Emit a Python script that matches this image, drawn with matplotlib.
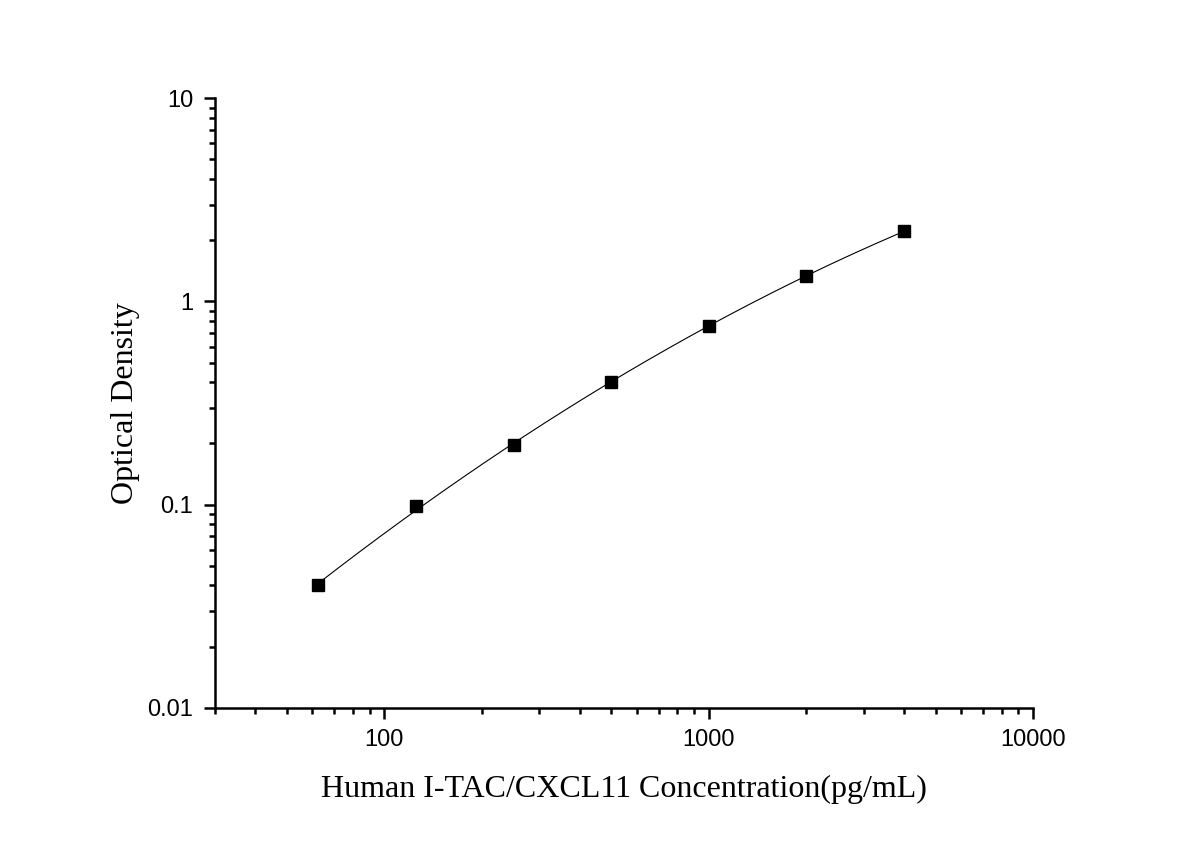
import numpy as np
import matplotlib
matplotlib.use("Agg")
import matplotlib.pyplot as plt
from matplotlib.ticker import LogLocator, FixedLocator, FixedFormatter, NullFormatter

# Standard curve points
concentration = [62.5, 125, 250, 500, 1000, 2000, 4000]
optical_density = [0.040, 0.098, 0.197, 0.400, 0.757, 1.331, 2.23]

x_ticks = [100, 1000, 10000]
x_tick_labels = ["100", "1000", "10000"]
y_ticks = [0.01, 0.1, 1, 10]
y_tick_labels = ["0.01", "0.1", "1", "10"]

# Smooth fitted curve in log-log space
lx = np.log10(concentration)
ly = np.log10(optical_density)
coef = np.polyfit(lx, ly, 2)
xs = np.linspace(lx.min(), lx.max(), 200)
ys = np.polyval(coef, xs)

fig = plt.figure(figsize=(12, 8.49), dpi=100)
ax = fig.add_axes([0.179, 0.1664, 0.682, 0.7178])

ax.plot(10 ** xs, 10 ** ys, color="black", linewidth=0.8)
ax.plot(concentration, optical_density, linestyle="none", marker="s",
        markersize=8, color="black")

ax.set_xscale("log")
ax.set_yscale("log")
ax.set_xlim(30, 10000)
ax.set_ylim(0.01, 10)

ax.xaxis.set_major_locator(FixedLocator(x_ticks))
ax.xaxis.set_major_formatter(FixedFormatter(x_tick_labels))
ax.yaxis.set_major_locator(FixedLocator(y_ticks))
ax.yaxis.set_major_formatter(FixedFormatter(y_tick_labels))
ax.xaxis.set_minor_locator(LogLocator(base=10, subs=np.arange(2, 10)))
ax.yaxis.set_minor_locator(LogLocator(base=10, subs=np.arange(2, 10)))
ax.xaxis.set_minor_formatter(NullFormatter())
ax.yaxis.set_minor_formatter(NullFormatter())

for side in ["top", "right"]:
    ax.spines[side].set_visible(False)
for side in ["left", "bottom"]:
    ax.spines[side].set_linewidth(1.8)

ax.tick_params(which="major", direction="out", length=8, width=1.8,
               labelsize=17, pad=7.5)
ax.tick_params(which="minor", direction="out", length=4.3, width=1.8)
for lab in ax.get_xticklabels() + ax.get_yticklabels():
    lab.set_fontfamily("Liberation Sans")

ax.set_xlabel("Human I-TAC/CXCL11 Concentration(pg/mL)", fontsize=23,
              fontfamily="Liberation Serif", labelpad=17)
ax.set_ylabel("Optical Density", fontsize=23,
              fontfamily="Liberation Serif", labelpad=5)

fig.savefig("out.png", dpi=100, facecolor="white")
